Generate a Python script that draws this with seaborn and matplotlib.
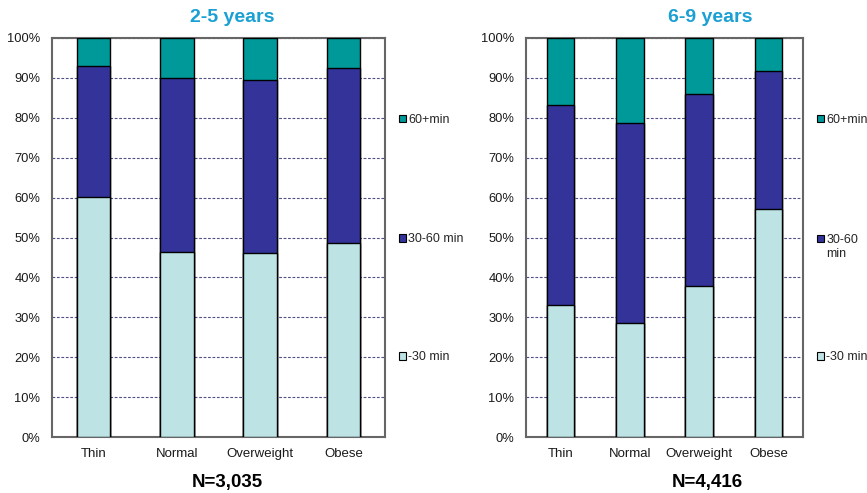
import matplotlib
matplotlib.use("Agg")
import matplotlib.pyplot as plt
import matplotlib.patches as mpatches
import seaborn as sns
import pandas as pd
import numpy as np

sns.set_style("white")
plt.rcParams['font.family'] = ['Liberation Sans', 'DejaVu Sans']

categories = ["Thin", "Normal", "Overweight", "Obese"]
series_names = ["-30 min", "30-60 min", "60+min"]

# 2-5 years (percent)
young_lt30 = [60.2, 46.4, 46.1, 48.5]
young_30_60 = [32.8, 43.6, 43.4, 44.1]
young_60p = [7.0, 10.0, 10.5, 7.4]

# 6-9 years (percent)
old_lt30 = [33.1, 28.6, 37.9, 57.2]
old_30_60 = [50.2, 50.2, 48.0, 34.5]
old_60p = [16.7, 21.2, 14.1, 8.3]

titles = ["2-5 years", "6-9 years"]
n_labels = ["N=3,035", "N=4,416"]
legend_texts_left = ["60+min", "30-60 min", "-30 min"]
legend_texts_right = ["60+min", "30-60\nmin", "-30 min"]

colors = {"-30 min": "#bde3e4", "30-60 min": "#333399", "60+min": "#009999"}
title_color = "#1aa0d2"
grid_color = "#50508a"

fig = plt.figure(figsize=(8.67, 4.93), dpi=100)
ax1 = fig.add_axes([52/867, 56/493, 333/867, 399/493])
ax2 = fig.add_axes([526/867, 56/493, 277/867, 399/493])


def draw(ax, lt30, mid, top, legend_texts, title, nlab, title_x, n_x):
    df = pd.DataFrame({"cat": categories, "lt30": lt30, "mid": mid, "top": top})
    df["c2"] = df["lt30"] + df["mid"]
    df["c3"] = df["c2"] + df["top"]
    for col, name in [("c3", "60+min"), ("c2", "30-60 min"), ("lt30", "-30 min")]:
        sns.barplot(data=df, x="cat", y=col, order=categories, color=colors[name],
                    width=0.4, edgecolor="black", linewidth=1.0, ax=ax,
                    saturation=1, errorbar=None, zorder=3)
    ax.set_xlim(-0.5, 3.5)
    ax.set_ylim(0, 100)
    ax.set_yticks(np.arange(0, 101, 10))
    ax.set_yticklabels([f"{v}%" for v in range(0, 101, 10)])
    ax.set_xlabel("")
    ax.set_ylabel("")
    ax.tick_params(axis="both", length=0, colors="#1a1a1a")
    ax.tick_params(axis="x", pad=8, labelsize=9.5)
    ax.tick_params(axis="y", pad=8.5, labelsize=9.3)
    ax.yaxis.grid(True, linestyle=(0, (2.5, 1.5)), color=grid_color, linewidth=0.8, zorder=0)
    ax.set_axisbelow(True)
    for s in ax.spines.values():
        s.set_visible(True)
        s.set_color("#666666")
        s.set_linewidth(1.5)
    # legends (one per entry, spaced like the reference)
    names = ["60+min", "30-60 min", "-30 min"]
    ys = [0.795, 0.495, 0.20]
    legs = []
    for name, txt, y in zip(names, legend_texts, ys):
        h = mpatches.Patch(facecolor=colors[name], edgecolor="black", linewidth=0.8)
        lines = txt.split("\n")
        handles = [h] + [mpatches.Patch(visible=False) for _ in lines[1:]]
        anchor_y = y - 0.019 * (len(lines) - 1)
        leg = ax.legend(handles, lines, loc="center left", bbox_to_anchor=(1.0, anchor_y),
                        frameon=False, fontsize=9, handlelength=0.55, handleheight=0.55,
                        handletextpad=0.2, borderaxespad=0.9, borderpad=0.2,
                        labelspacing=0.15)
        legs.append(leg)
    for leg in legs[:-1]:
        ax.add_artist(leg)
    fig.text(title_x / 867, 1 - 17/493, title, ha="center", va="center",
             fontsize=14, fontweight="bold", color=title_color)
    fig.text(n_x / 867, 1 - 482/493, nlab, ha="center", va="center",
             fontsize=13.5, fontweight="bold", color="black")


draw(ax1, young_lt30, young_30_60, young_60p, legend_texts_left, titles[0], n_labels[0], 232, 227)
draw(ax2, old_lt30, old_30_60, old_60p, legend_texts_right, titles[1], n_labels[1], 710, 707)

fig.savefig("out.png", dpi=100)
